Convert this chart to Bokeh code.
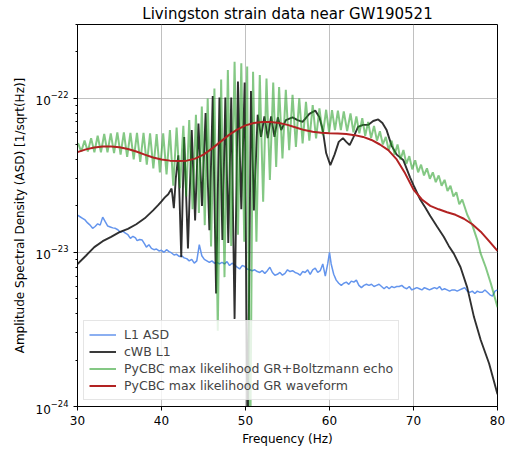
from bokeh.plotting import figure
from bokeh.models import ColumnDataSource, Range1d, FixedTicker, LogTickFormatter, Legend, LegendItem
from bokeh.embed import file_html
from bokeh.resources import INLINE

# All ASD values below are in units of 1e-23 1/sqrt(Hz)
UNIT = 1e-23

x_ticks = [30, 40, 50, 60, 70, 80]
y_ticks = [1e-24, 1e-23, 1e-22]

# L1 ASD (blue)
l1_freq = [30.0, 30.3, 30.6, 30.9, 31.2, 31.5, 31.8, 32.1, 32.4, 32.7, 33.0, 33.3, 33.6, 33.9, 34.2, 34.5,
           34.8, 35.1, 35.4, 35.7, 36.0, 36.3, 36.6, 36.9, 37.1, 37.4, 37.7, 38.0, 38.2, 38.5, 38.8, 39.1,
           39.4, 39.7, 40.0, 40.3, 40.6, 40.9, 41.2, 41.5, 41.8, 42.1, 42.4, 42.7, 43.0, 43.3, 43.6, 43.9,
           44.2, 44.5, 44.8, 45.1, 45.4, 45.7, 46.0, 46.3, 46.6, 46.9, 47.2, 47.5, 47.8, 48.1, 48.4, 48.7,
           49.0, 49.3, 49.6, 49.9, 50.2, 50.5, 50.8, 51.1, 51.4, 51.7, 52.0, 52.3, 52.6, 52.9, 53.2, 53.5,
           53.8, 54.1, 54.4, 54.7, 55.0, 55.3, 55.6, 55.9, 56.2, 56.5, 56.8, 57.1, 57.4, 57.7, 58.0, 58.3,
           58.6, 58.9, 59.2, 59.5, 59.8, 60.0, 60.2, 60.5, 60.8, 61.1, 61.4, 61.7, 62.0, 62.3, 62.6, 62.9,
           63.2, 63.5, 63.8, 64.1, 64.4, 64.7, 65.0, 65.3, 65.6, 65.9, 66.2, 66.5, 66.8, 67.1, 67.4, 67.7,
           68.0, 68.3, 68.6, 68.9, 69.2, 69.5, 69.8, 70.1, 70.4, 70.7, 71.0, 71.3, 71.6, 71.9, 72.2, 72.5,
           72.8, 73.1, 73.4, 73.7, 74.0, 74.3, 74.6, 74.9, 75.2, 75.5, 75.8, 76.1, 76.4, 76.7, 77.0, 77.3,
           77.6, 77.9, 78.2, 78.5, 78.8, 79.1, 79.4, 79.7, 80.0]
l1_asd = [1.74, 1.70, 1.66, 1.62, 1.55, 1.50, 1.43, 1.47, 1.53, 1.50, 1.69, 1.58, 1.48, 1.46, 1.44, 1.43,
          1.40, 1.35, 1.37, 1.33, 1.30, 1.23, 1.27, 1.24, 1.19, 1.21, 1.20, 1.13, 1.08, 1.12, 1.06, 1.04,
          1.05, 1.02, 1.03, 1.00, 1.04, 1.01, 0.99, 0.96, 0.97, 0.94, 0.95, 0.92, 0.91, 0.88, 0.90, 0.85,
          0.88, 1.12, 0.95, 0.90, 0.88, 0.86, 0.88, 0.85, 0.86, 0.84, 0.86, 0.84, 0.87, 0.82, 0.85, 0.83,
          0.80, 0.78, 0.82, 0.81, 0.78, 0.77, 0.76, 0.77, 0.75, 0.74, 0.76, 0.73, 0.76, 0.80, 0.74, 0.71,
          0.72, 0.74, 0.71, 0.73, 0.77, 0.75, 0.76, 0.74, 0.73, 0.71, 0.75, 0.74, 0.77, 0.72, 0.77, 0.79,
          0.74, 0.76, 0.84, 0.70, 0.85, 1.00, 0.84, 0.72, 0.66, 0.63, 0.61, 0.63, 0.64, 0.62, 0.65, 0.64,
          0.66, 0.61, 0.59, 0.61, 0.62, 0.61, 0.62, 0.60, 0.61, 0.62, 0.60, 0.58, 0.60, 0.58, 0.60, 0.59,
          0.60, 0.60, 0.61, 0.59, 0.58, 0.60, 0.57, 0.58, 0.59, 0.58, 0.57, 0.59, 0.58, 0.57, 0.58, 0.59,
          0.58, 0.60, 0.57, 0.58, 0.57, 0.56, 0.57, 0.57, 0.56, 0.57, 0.58, 0.59, 0.56, 0.55, 0.56, 0.54,
          0.56, 0.55, 0.55, 0.57, 0.55, 0.53, 0.52, 0.56, 0.57]

# cWB L1 (black)
cwb_freq = [30.0, 31.0, 32.0, 33.0, 34.0, 35.0, 36.0, 37.0, 38.0, 39.0, 39.6, 40.0, 40.4, 40.8, 41.2, 41.3,
            41.47, 41.7, 42.0, 42.35, 42.7, 43.15, 43.6, 44.0, 44.4, 44.82, 45.25, 45.7, 46.1, 46.5, 46.9,
            47.25, 47.6, 47.95, 48.3, 48.7, 49.1, 49.5, 49.9, 50.25, 50.65, 51.0, 51.45, 51.85, 52.25, 52.65,
            53.05, 53.45, 53.85, 54.25, 54.8, 55.6, 56.2, 56.8, 57.6, 58.3, 58.8, 59.2, 59.6, 60.1, 60.6,
            61.1, 61.6, 62.0, 62.4, 62.8, 63.4, 64.0, 64.6, 65.2, 65.8, 66.3, 66.8, 67.4, 68.0, 68.8, 69.6,
            70.1, 70.8, 71.4, 72.0, 72.8, 73.6, 74.2, 74.8, 75.6, 76.4, 77.2, 78.0, 79.0, 80.0]
cwb_asd = [0.84, 0.95, 1.08, 1.18, 1.26, 1.35, 1.42, 1.52, 1.66, 1.87, 2.02, 2.14, 2.27, 2.38, 2.59, 2.35,
           1.93, 3.0, 4.26, 0.93, 5.6, 1.06, 6.2, 1.61, 6.85, 2.0, 8.0, 1.39, 10.3, 0.54, 10.1,
           1.2, 10.1, 1.15, 10.1, 0.37, 12.8, 1.9, 12.6, 0.05, 11.1, 1.87, 7.8, 5.6, 7.6, 5.5,
           7.6, 5.6, 7.5, 6.2, 7.2, 7.5, 7.2, 7.0, 7.9, 8.3, 7.5, 6.2, 4.4, 3.67, 4.3,
           5.2, 5.5, 5.2, 4.95, 5.5, 6.5, 6.7, 6.7, 7.1, 7.27, 6.9, 6.2, 4.9, 4.3, 3.95, 3.05,
           2.65, 2.2, 1.95, 1.72, 1.47, 1.26, 1.1, 0.98, 0.80, 0.59, 0.38, 0.27, 0.19, 0.12]

# PyCBC GR + Boltzmann echo (green): oscillation peaks, troughs and smooth tail
echo_peak_freq = [30.06, 30.84, 31.62, 32.40, 33.18, 33.96, 34.74, 35.52, 36.30, 37.08, 37.86, 38.64, 39.42,
                  40.2, 41.0, 41.8, 42.6, 43.3, 44.1, 44.8, 45.5, 46.3, 47.1, 47.9, 48.7, 49.5, 50.2, 50.9,
                  51.7, 52.5, 53.3, 54.0, 54.8, 55.6, 56.4, 57.2, 58.0, 58.8, 59.6, 60.3, 61.0, 61.7, 62.5,
                  63.2, 63.9, 64.6, 65.3, 66.0, 66.7, 67.4, 68.1, 68.8, 69.5, 70.2, 70.9, 71.6, 72.3, 73.0,
                  73.7, 74.4, 75.1, 75.8]
echo_peak_asd = [5.1, 5.3, 5.5, 5.7, 5.85, 5.9, 6.0, 6.0, 5.95, 5.95, 5.95, 5.9, 5.85,
                 5.9, 6.2, 6.45, 6.6, 7.2, 7.8, 8.8, 9.95, 11.55, 13.2, 15.2, 17.2, 16.8, 16.0, 14.8,
                 14.1, 13.4, 12.6, 11.8, 11.3, 10.5, 9.95, 9.46, 9.0, 8.57, 8.4, 8.36, 8.3, 8.2, 7.95,
                 7.6, 7.4, 7.0, 6.6, 6.1, 5.6, 5.3, 5.0, 4.6, 4.2, 3.95, 3.7, 3.5, 3.3, 3.15,
                 2.95, 2.7, 2.45, 2.2]
echo_trough_freq = [30.45, 31.23, 32.01, 32.79, 33.57, 34.35, 35.13, 35.91, 36.69, 37.47, 38.25, 39.03, 39.81,
                    40.6, 41.4, 42.2, 42.95, 43.7, 44.45, 45.15, 45.9, 46.7, 47.5, 48.3, 49.1, 49.85, 50.55,
                    51.3, 52.1, 52.9, 53.65, 54.4, 55.2, 56.0, 56.8, 57.6, 58.4, 59.2, 59.95, 60.65, 61.35,
                    62.1, 62.85, 63.55, 64.25, 64.95, 65.65, 66.35, 67.05, 67.75, 68.45, 69.15, 69.85, 70.55,
                    71.25, 71.95, 72.65, 73.35, 74.05, 74.75, 75.45]
echo_trough_asd = [4.5, 4.5, 4.45, 4.45, 4.45, 4.4, 4.3, 4.15, 4.0, 3.85, 3.7, 3.5, 3.3,
                   3.2, 2.7, 2.6, 2.3, 1.9, 1.8, 1.5, 1.09, 0.31, 0.69, 1.1, 1.3, 1.17, 0.04,
                   1.17, 2.13, 2.94, 3.58, 4.06, 4.59, 4.83, 5.08, 5.3, 5.47, 5.75, 6.0, 6.2, 6.2,
                   6.1, 6.0, 5.9, 5.7, 5.5, 5.3, 5.0, 4.6, 4.3, 4.0, 3.75, 3.45, 3.3,
                   3.15, 3.0, 2.85, 2.7, 2.5, 2.3, 2.05]
echo_tail_freq = [76.4, 77.0, 77.6, 78.0, 78.6, 79.2, 80.0]
echo_tail_asd = [1.75, 1.5, 1.2, 0.98, 0.8, 0.63, 0.44]

# PyCBC GR waveform (red)
gr_freq = list(range(30, 81))
gr_asd = [4.46, 4.65, 4.78, 4.85, 4.86, 4.80, 4.68, 4.50, 4.30, 4.12, 4.00, 3.93, 3.91, 3.93, 4.05, 4.30,
          4.70, 5.20, 5.75, 6.25, 6.65, 6.90, 7.00, 7.00, 6.90, 6.70, 6.45, 6.20, 6.05, 5.95, 5.92, 5.90,
          5.85, 5.75, 5.60, 5.35, 5.00, 4.60, 4.00, 3.25, 2.55, 2.20, 2.00, 1.90, 1.82, 1.75, 1.65, 1.52,
          1.36, 1.18, 1.02]

FONT = "DejaVu Sans"

def src(freqs, vals):
    return ColumnDataSource(dict(f=list(freqs), a=[v * UNIT for v in vals]))

echo_pts = sorted(zip(echo_peak_freq + echo_trough_freq + echo_tail_freq,
                      echo_peak_asd + echo_trough_asd + echo_tail_asd))

p = figure(width=522, height=451, output_backend="svg", toolbar_location=None,
           y_axis_type="log", x_range=Range1d(30, 80), y_range=Range1d(1e-24, 3.0e-22),
           min_border_left=77, min_border_right=25, min_border_top=24, min_border_bottom=45,
           title="Livingston strain data near GW190521")

p.title.align = "center"
p.title.text_font = FONT
p.title.text_font_size = "15px"
p.title.text_font_style = "normal"
p.title.text_color = "black"
p.title.standoff = 4

p.outline_line_color = "black"
p.outline_line_alpha = 1.0
p.background_fill_color = "white"
p.border_fill_color = "white"

p.xaxis.ticker = FixedTicker(ticks=x_ticks, minor_ticks=[])
minor_y = [k * t for t in y_ticks[:-1] for k in range(2, 10)] + [2e-22, 3e-22]
p.yaxis.ticker = FixedTicker(ticks=y_ticks, minor_ticks=minor_y)
p.yaxis.formatter = LogTickFormatter()

for ax in (p.xaxis, p.yaxis):
    ax.axis_line_color = "black"
    ax.major_tick_line_color = "black"
    ax.minor_tick_line_color = "black"
    ax.major_tick_out = 4
    ax.major_tick_in = 0
    ax.minor_tick_out = 2
    ax.minor_tick_in = 0
    ax.major_label_text_font = FONT
    ax.major_label_text_font_size = "12px"
    ax.major_label_text_color = "black"
    ax.axis_label_text_font = FONT
    ax.axis_label_text_font_size = "12px"
    ax.axis_label_text_font_style = "normal"
    ax.axis_label_text_color = "black"

p.xaxis.axis_label = "Frequency (Hz)"
p.yaxis.axis_label = "Amplitude Spectral Density (ASD) [1/sqrt(Hz)]"
p.xaxis.axis_label_standoff = 4
p.yaxis.axis_label_standoff = 6

p.xgrid.grid_line_color = "#b0b0b0"
p.ygrid.grid_line_color = "#b0b0b0"
p.xgrid.grid_line_width = 0.8
p.ygrid.grid_line_width = 0.8

r_l1 = p.line("f", "a", source=src(l1_freq, l1_asd), line_color="#6495ED", line_width=1.5)
r_cwb = p.line("f", "a", source=src(cwb_freq, cwb_asd), line_color="#1a1a1a", line_width=1.9, line_alpha=0.9)
r_echo = p.line("f", "a", source=src([e[0] for e in echo_pts], [e[1] for e in echo_pts]),
                line_color="#1f9a1f", line_width=2, line_alpha=0.55)
r_gr = p.line("f", "a", source=src(gr_freq, gr_asd), line_color="#b22222", line_width=2)

legend = Legend(items=[
    LegendItem(label="L1 ASD", renderers=[r_l1]),
    LegendItem(label="cWB L1", renderers=[r_cwb]),
    LegendItem(label="PyCBC max likelihood GR+Boltzmann echo", renderers=[r_echo]),
    LegendItem(label="PyCBC max likelihood GR waveform", renderers=[r_gr]),
], location="bottom_left")
legend.margin = 6
legend.padding = 5
legend.spacing = 0
legend.label_text_font = FONT
legend.label_text_font_size = "12.5px"
legend.label_height = 17
legend.glyph_height = 17
legend.glyph_width = 27
legend.label_standoff = 8
legend.border_line_color = "#cccccc"
legend.background_fill_alpha = 0.8
p.add_layout(legend, "center")

open("out.html", "w").write(file_html(p, INLINE))
